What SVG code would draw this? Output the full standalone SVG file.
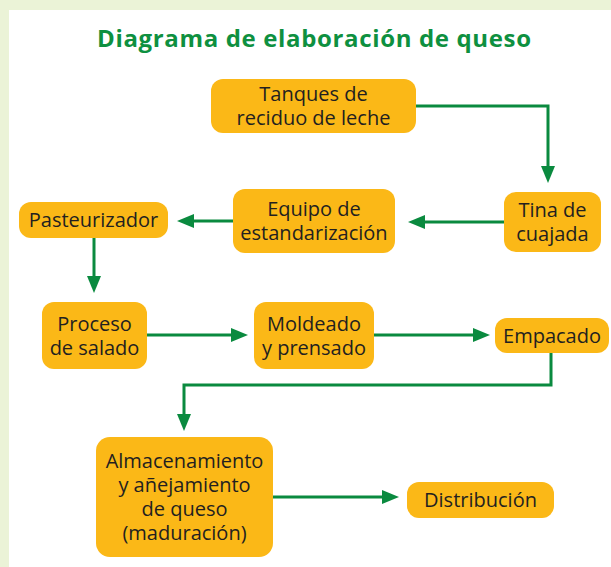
<svg xmlns="http://www.w3.org/2000/svg" width="611" height="567" viewBox="0 0 611 567">
  <style>
    .box { fill: #FBB817; }
    .lbl { font-family: "Open Sans", "Noto Sans", sans-serif; font-size: 20px; fill: #231F20; text-anchor: middle; }
    .title { font-family: "Open Sans", "Noto Sans", sans-serif; font-size: 24px; font-weight: bold; fill: #0E9040; text-anchor: middle; }
    .conn { fill: none; stroke: #0A8A3F; stroke-width: 3; }
  </style>
  <defs>
    <marker id="arr" markerUnits="userSpaceOnUse" markerWidth="17" markerHeight="14" refX="7" refY="7" orient="auto" viewBox="0 0 17 14">
      <path d="M0,0 L17,7 L0,14 z" fill="#0A8A3F"/>
    </marker>
  </defs>
  <rect x="0" y="0" width="611" height="567" fill="#EBF3D7"/>
  <rect x="9" y="10" width="602" height="557" fill="#FFFFFF"/>
  <text class="title" x="314" y="47" textLength="434">Diagrama de elaboración de queso</text>

  <g id="connectors">
    <path class="conn" d="M416,106 H548 V173" marker-end="url(#arr)"/>
    <path class="conn" d="M504,222 H418" marker-end="url(#arr)"/>
    <path class="conn" d="M233,221 H187" marker-end="url(#arr)"/>
    <path class="conn" d="M94,238 V283" marker-end="url(#arr)"/>
    <path class="conn" d="M147,335 H238" marker-end="url(#arr)"/>
    <path class="conn" d="M374,335 H480" marker-end="url(#arr)"/>
    <path class="conn" d="M551,353 V385 H184 V421" marker-end="url(#arr)"/>
    <path class="conn" d="M273,497 H389" marker-end="url(#arr)"/>
  </g>

  <g id="tanques">
    <rect class="box" x="211" y="79" width="205" height="54" rx="12"/>
    <text class="lbl" x="313.5" y="101">Tanques de<tspan x="313.5" dy="24">reciduo de leche</tspan></text>
  </g>
  <g id="tina">
    <rect class="box" x="504" y="192" width="97" height="60" rx="12"/>
    <text class="lbl" x="552.5" y="216.5">Tina de<tspan x="552.5" dy="24">cuajada</tspan></text>
  </g>
  <g id="equipo">
    <rect class="box" x="233" y="189" width="162" height="64" rx="12"/>
    <text class="lbl" x="314" y="216">Equipo de<tspan x="314" dy="24">estandarización</tspan></text>
  </g>
  <g id="pasteurizador">
    <rect class="box" x="19" y="202" width="149" height="36" rx="12"/>
    <text class="lbl" x="93.5" y="227">Pasteurizador</text>
  </g>
  <g id="proceso">
    <rect class="box" x="42" y="302" width="105" height="67" rx="12"/>
    <text class="lbl" x="94.5" y="330.5">Proceso<tspan x="94.5" dy="24">de salado</tspan></text>
  </g>
  <g id="moldeado">
    <rect class="box" x="254" y="302" width="120" height="67" rx="12"/>
    <text class="lbl" x="314" y="330.5">Moldeado<tspan x="314" dy="24">y prensado</tspan></text>
  </g>
  <g id="empacado">
    <rect class="box" x="495" y="318" width="114" height="35" rx="12"/>
    <text class="lbl" x="552" y="342.5">Empacado</text>
  </g>
  <g id="almacenamiento">
    <rect class="box" x="96" y="437" width="177" height="120" rx="14"/>
    <text class="lbl" x="184.5" y="468">Almacenamiento<tspan x="184.5" dy="24">y añejamiento</tspan><tspan x="184.5" dy="24">de queso</tspan><tspan x="184.5" dy="24">(maduración)</tspan></text>
  </g>
  <g id="distribucion">
    <rect class="box" x="407" y="482" width="147" height="36" rx="12"/>
    <text class="lbl" x="480.5" y="507">Distribución</text>
  </g>
</svg>
